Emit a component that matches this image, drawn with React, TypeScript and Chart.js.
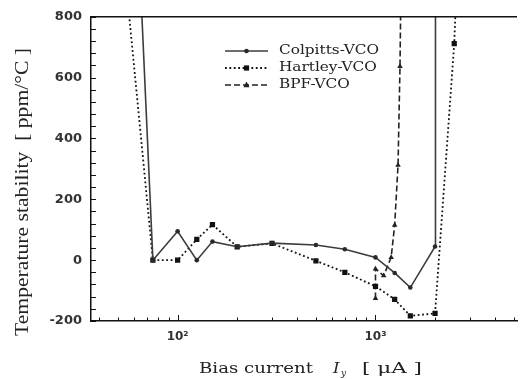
import React, { useEffect, useRef } from 'react';
import { Chart, registerables } from 'chart.js';

Chart.register(...registerables);

// ---- data ----
const colpittsX = [60, 75, 100, 125, 150, 200, 300, 500, 700, 1000, 1250, 1500, 2000, 2010];
const colpittsY = [1400, 0, 95, 0, 61, 44, 56, 50, 36, 9, -42, -90, 45, 3000];
const hartleyX = [50, 75, 100, 125, 150, 200, 300, 500, 700, 1000, 1250, 1500, 2000, 2500, 3000];
const hartleyY = [1180, 0, 0, 68, 117, 44, 55, -2, -40, -86, -129, -183, -175, 712, 2000];
const bpfX = [1000, 1000, 1100, 1200, 1250, 1300, 1330, 1380];
const bpfY = [-126, -29, -51, 9, 115, 312, 637, 1500];
const seriesLabels = ['Colpitts-VCO', 'Hartley-VCO', 'BPF-VCO'];
const xTickLabels: Record<number, string> = { 100: '10²', 1000: '10³' };
const yStep = 200;
const yMinorStep = 40;
const xTitleMain = 'Bias current';
const xTitleVar = 'I';
const xTitleSub = 'y';
const xTitleUnit = '[ μA ]';
const yTitle = 'Temperature stability  [ ppm/°C ]';

const toPts = (xs: number[], ys: number[]) => xs.map((x, i) => ({ x, y: ys[i] }));

function drawMarker(ctx: CanvasRenderingContext2D, style: string, x: number, y: number, color: string) {
  ctx.save();
  ctx.fillStyle = color;
  ctx.setLineDash([]);
  ctx.beginPath();
  if (style === 'circle') {
    ctx.arc(x, y, 2.3, 0, Math.PI * 2);
  } else if (style === 'rect') {
    ctx.rect(x - 2.6, y - 2.6, 5.2, 5.2);
  } else {
    ctx.moveTo(x, y - 3.4);
    ctx.lineTo(x + 3, y + 2.2);
    ctx.lineTo(x - 3, y + 2.2);
    ctx.closePath();
  }
  ctx.fill();
  ctx.restore();
}

const decorPlugin = {
  id: 'decor',
  afterDatasetsDraw(chart: any) {
    const { ctx, chartArea: a, scales } = chart;
    const xs = scales.x;
    const ys = scales.y;
    ctx.save();
    // top frame line
    ctx.strokeStyle = '#111';
    ctx.lineWidth = 1.5;
    ctx.beginPath();
    ctx.moveTo(a.left, a.top);
    ctx.lineTo(a.right, a.top);
    ctx.stroke();
    // inside ticks, y
    ctx.lineWidth = 1;
    ctx.beginPath();
    for (let v = ys.min; v <= ys.max + 1e-6; v += yMinorStep) {
      const p = Math.round(ys.getPixelForValue(v)) + 0.5;
      ctx.moveTo(a.left, p);
      ctx.lineTo(a.left + 5, p);
    }
    // inside ticks, x (log minor)
    for (let d = 1; d <= 4; d++) {
      for (let m = 1; m <= 9; m++) {
        const v = m * Math.pow(10, d);
        if (v < xs.min || v > xs.max) continue;
        const p = Math.round(xs.getPixelForValue(v)) + 0.5;
        ctx.moveTo(p, a.bottom);
        ctx.lineTo(p, a.bottom - (m === 1 ? 6 : 3.5));
      }
    }
    ctx.stroke();
    ctx.restore();

    // legend
    const ds = chart.data.datasets;
    const rowY = [51, 68, 85];
    ctx.save();
    ctx.font = '12px "DejaVu Serif"';
    const refW = ctx.measureText(ds[0].label).width;
    const sx = 100 / refW;
    ds.forEach((d: any, i: number) => {
      const y = rowY[i];
      ctx.save();
      ctx.strokeStyle = d.borderColor;
      ctx.lineWidth = d.borderWidth;
      ctx.setLineDash(d.borderDash || []);
      ctx.beginPath();
      ctx.moveTo(225, y);
      ctx.lineTo(268, y);
      ctx.stroke();
      ctx.restore();
      drawMarker(ctx, d.pointStyle, 246.5, y, d.pointBackgroundColor);
      ctx.save();
      ctx.fillStyle = '#222';
      ctx.textBaseline = 'middle';
      ctx.textAlign = 'left';
      ctx.translate(279, y);
      ctx.scale(sx, 1);
      ctx.fillText(d.label, 0, 0);
      ctx.restore();
    });
    ctx.restore();
  },
  afterDraw(chart: any) {
    const { ctx } = chart;
    ctx.save();
    ctx.fillStyle = '#222';
    // x title
    ctx.font = '14px "DejaVu Serif"';
    ctx.textBaseline = 'alphabetic';
    ctx.textAlign = 'left';
    const w = ctx.measureText(xTitleMain).width;
    const sx = 114 / w;
    const base = 373;
    ctx.save();
    ctx.translate(199, base);
    ctx.scale(sx, 1);
    ctx.fillText(xTitleMain, 0, 0);
    ctx.restore();
    ctx.save();
    ctx.font = 'italic 15px "DejaVu Serif"';
    ctx.translate(333, base);
    ctx.scale(1.1, 1);
    ctx.fillText(xTitleVar, 0, 0);
    ctx.restore();
    ctx.save();
    ctx.font = 'italic 9px "DejaVu Serif"';
    ctx.fillText(xTitleSub, 341, base + 3);
    ctx.restore();
    ctx.save();
    ctx.font = '14px "DejaVu Serif"';
    const wu = ctx.measureText(xTitleUnit).width;
    ctx.translate(362, base);
    ctx.scale(60 / wu, 1);
    ctx.fillText(xTitleUnit, 0, 0);
    ctx.restore();
    // y title
    ctx.save();
    ctx.font = '19px "Liberation Serif"';
    ctx.textAlign = 'center';
    ctx.textBaseline = 'alphabetic';
    const wy = ctx.measureText(yTitle).width;
    ctx.translate(28, 192);
    ctx.rotate(-Math.PI / 2);
    ctx.scale(288 / wy, 1);
    ctx.fillText(yTitle, 0, 0);
    ctx.restore();
    ctx.restore();
  },
};

export default function App() {
  const ref = useRef<HTMLCanvasElement | null>(null);
  useEffect(() => {
    if (!ref.current) return;
    const chart = new Chart(ref.current, {
      type: 'scatter',
      data: {
        datasets: [
          {
            label: seriesLabels[0],
            data: toPts(colpittsX, colpittsY),
            showLine: true,
            borderColor: '#3c3c3c',
            borderWidth: 1.6,
            pointStyle: 'circle',
            pointRadius: 2.3,
            pointBackgroundColor: '#2a2a2a',
            pointBorderWidth: 0,
          },
          {
            label: seriesLabels[1],
            data: toPts(hartleyX, hartleyY),
            showLine: true,
            borderColor: '#111',
            borderWidth: 1.8,
            borderDash: [1.8, 2.6],
            pointStyle: 'rect',
            pointRadius: 3.7,
            pointBackgroundColor: '#111',
            pointBorderWidth: 0,
          },
          {
            label: seriesLabels[2],
            data: toPts(bpfX, bpfY),
            showLine: true,
            borderColor: '#222',
            borderWidth: 1.6,
            borderDash: [6, 3],
            pointStyle: 'triangle',
            pointRadius: 3.2,
            pointBackgroundColor: '#222',
            pointBorderWidth: 0,
          },
        ],
      },
      options: {
        animation: false,
        responsive: false,
        layout: { padding: { top: 13, right: 0, left: 0, bottom: 0 } },
        plugins: { legend: { display: false }, tooltip: { enabled: false } },
        scales: {
          x: {
            type: 'logarithmic',
            min: 36.5,
            max: 5190,
            grid: { display: false, drawTicks: false },
            border: { display: true, color: '#111', width: 1.5 },
            afterFit: (s: any) => { s.height = 58; },
            ticks: {
              autoSkip: false,
              maxRotation: 0,
              padding: 9,
              color: '#333',
              font: { family: 'DejaVu Sans', size: 12, weight: 'bold' },
              callback: (v: any) => xTickLabels[Math.round(Number(v))] ?? '',
            },
          },
          y: {
            min: -200,
            max: 800,
            grid: { display: false, drawTicks: false },
            border: { display: true, color: '#111', width: 1.5 },
            afterFit: (s: any) => { s.width = 91; },
            ticks: {
              stepSize: yStep,
              padding: 9,
              color: '#333',
              font: { family: 'DejaVu Sans', size: 13, weight: 'bold' },
            },
          },
        },
      },
      plugins: [decorPlugin],
    } as any);
    return () => chart.destroy();
  }, []);
  return (
    <div style={{ position: 'fixed', left: 0, top: 0, width: 526, height: 379, background: '#fff' }}>
      <canvas ref={ref} width={526} height={379} />
    </div>
  );
}
